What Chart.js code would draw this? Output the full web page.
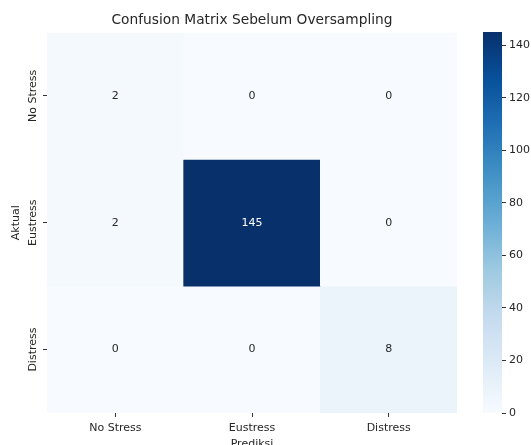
<!DOCTYPE html>
<html lang="id">
<head>
    <meta charset="UTF-8">
    <title>Confusion Matrix Sebelum Oversampling</title>
    <script src="https://cdn.jsdelivr.net/npm/chart.js"></script>
    <style>
        html, body { margin: 0; padding: 0; background: #fff; overflow: hidden; }
        .wrap { position: relative; width: 531px; height: 445px; overflow: hidden; }
        .wrap canvas { position: absolute; left: 0; top: 0; }
    </style>
</head>
<body>
    <div class="wrap">
        <canvas id="heatmap" width="531" height="462"></canvas>
        <canvas id="colorbar" width="531" height="462"></canvas>
    </div>
    <script>
        // data
        const predLabels = ['No Stress', 'Eustress', 'Distress'];
        const actualLabels = ['No Stress', 'Eustress', 'Distress'];
        const rowNoStress = [2, 0, 0];
        const rowEustress = [2, 145, 0];
        const rowDistress = [0, 0, 8];
        const colorbarTicks = [0, 20, 40, 60, 80, 100, 120, 140];
        const vmin = 0;
        const vmax = 145;

        const rows = [rowNoStress, rowEustress, rowDistress];
        const textColor = '#262626';
        const font = 'DejaVu Sans';

        // matplotlib "Blues"
        const bluesStops = [
            [247, 251, 255], [222, 235, 247], [198, 219, 239], [158, 202, 225],
            [107, 174, 214], [66, 146, 198], [33, 113, 181], [8, 81, 156], [8, 48, 107]
        ];
        function blues(t) {
            t = Math.max(0, Math.min(1, t));
            const pos = t * (bluesStops.length - 1);
            const i = Math.min(Math.floor(pos), bluesStops.length - 2);
            const f = pos - i;
            const a = bluesStops[i], b = bluesStops[i + 1];
            const c = a.map((v, k) => Math.round(v + (b[k] - v) * f));
            return 'rgb(' + c.join(',') + ')';
        }
        function norm(v) { return (v - vmin) / (vmax - vmin); }

        // number inside every cell
        const cellText = {
            id: 'cellText',
            afterDatasetsDraw(chart) {
                const ctx = chart.ctx;
                ctx.save();
                ctx.font = '11px "' + font + '"';
                ctx.textAlign = 'center';
                ctx.textBaseline = 'middle';
                chart.data.datasets.forEach((ds, di) => {
                    chart.getDatasetMeta(di).data.forEach((bar, i) => {
                        const v = ds.counts[i];
                        ctx.fillStyle = norm(v) > 0.5 ? '#ffffff' : textColor;
                        ctx.fillText(String(v), bar.x, (bar.y + bar.base) / 2);
                    });
                });
                ctx.restore();
            }
        };

        new Chart(document.getElementById('heatmap'), {
            type: 'bar',
            data: {
                labels: predLabels,
                datasets: rows.map((r, ri) => ({
                    label: actualLabels[ri],
                    counts: r,
                    data: r.map(() => [ri, ri + 1]),
                    backgroundColor: r.map(v => blues(norm(v))),
                    borderWidth: 0,
                    barPercentage: 1,
                    categoryPercentage: 1,
                    grouped: false
                }))
            },
            options: {
                responsive: false,
                animation: false,
                devicePixelRatio: 1,
                // right padding + empty spacer axis keep the title centred over the cells
                layout: { padding: { left: 0, right: 27, top: 0, bottom: 0 } },
                plugins: {
                    legend: { display: false },
                    tooltip: { enabled: false },
                    title: {
                        display: true,
                        text: 'Confusion Matrix Sebelum Oversampling',
                        color: textColor,
                        font: { family: font, size: 13.75, weight: 'normal' },
                        padding: { top: 12, bottom: 4 }
                    }
                },
                scales: {
                    x: {
                        type: 'category',
                        offset: true,
                        grid: { display: true, drawOnChartArea: false, offset: false, tickLength: 4, color: '#333' },
                        border: { display: false },
                        ticks: { color: textColor, font: { family: font, size: 11 }, padding: 5, maxRotation: 0 },
                        title: {
                            display: true, text: 'Prediksi', color: textColor,
                            font: { family: font, size: 11 }, padding: { top: 0, bottom: 11.5 }
                        },
                        afterFit(s) { s.height = 49; }
                    },
                    y: {
                        type: 'linear',
                        min: 0,
                        max: 3,
                        reverse: true,
                        afterBuildTicks(s) { s.ticks = actualLabels.map((l, i) => ({ value: i + 0.5 })); },
                        grid: { display: true, drawOnChartArea: false, tickLength: 4, color: '#333' },
                        border: { display: false },
                        ticks: {
                            color: textColor,
                            font: { family: font, size: 11 },
                            minRotation: 90,
                            maxRotation: 90,
                            crossAlign: 'center',
                            padding: -16,
                            callback: (v, i) => actualLabels[i]
                        },
                        title: {
                            display: true, text: 'Aktual', color: textColor,
                            font: { family: font, size: 11 }, padding: { top: 10, bottom: 0 }
                        },
                        afterFit(s) { s.width = 47; }
                    },
                    spacer: {
                        type: 'linear',
                        position: 'right',
                        grid: { display: false },
                        border: { display: false },
                        ticks: { display: false },
                        afterFit(s) { s.width = 47; }
                    }
                }
            },
            plugins: [cellText]
        });

        // colour bar, drawn as one floating bar with a gradient along its own scale
        new Chart(document.getElementById('colorbar'), {
            type: 'bar',
            data: {
                labels: [''],
                datasets: [{
                    data: [[vmin, vmax]],
                    borderWidth: 0,
                    barPercentage: 1,
                    categoryPercentage: 1,
                    backgroundColor(context) {
                        const chart = context.chart;
                        if (!chart.chartArea) return blues(0.5);
                        const sc = chart.scales.y;
                        const g = chart.ctx.createLinearGradient(0, sc.getPixelForValue(vmin), 0, sc.getPixelForValue(vmax));
                        bluesStops.forEach((s, i) => g.addColorStop(i / (bluesStops.length - 1), 'rgb(' + s.join(',') + ')'));
                        return g;
                    }
                }]
            },
            options: {
                responsive: false,
                animation: false,
                devicePixelRatio: 1,
                layout: { padding: { left: 483, right: 0, top: 32, bottom: 49 } },
                plugins: { legend: { display: false }, tooltip: { enabled: false } },
                scales: {
                    x: { display: false },
                    y: {
                        position: 'right',
                        min: vmin,
                        max: vmax,
                        afterBuildTicks(s) { s.ticks = colorbarTicks.map(v => ({ value: v })); },
                        grid: { display: true, drawOnChartArea: false, tickLength: 4, color: '#333' },
                        border: { display: false },
                        ticks: { color: textColor, font: { family: font, size: 11 }, padding: 3 },
                        afterFit(s) { s.width = 29; }
                    }
                }
            }
        });
    </script>
</body>
</html>
